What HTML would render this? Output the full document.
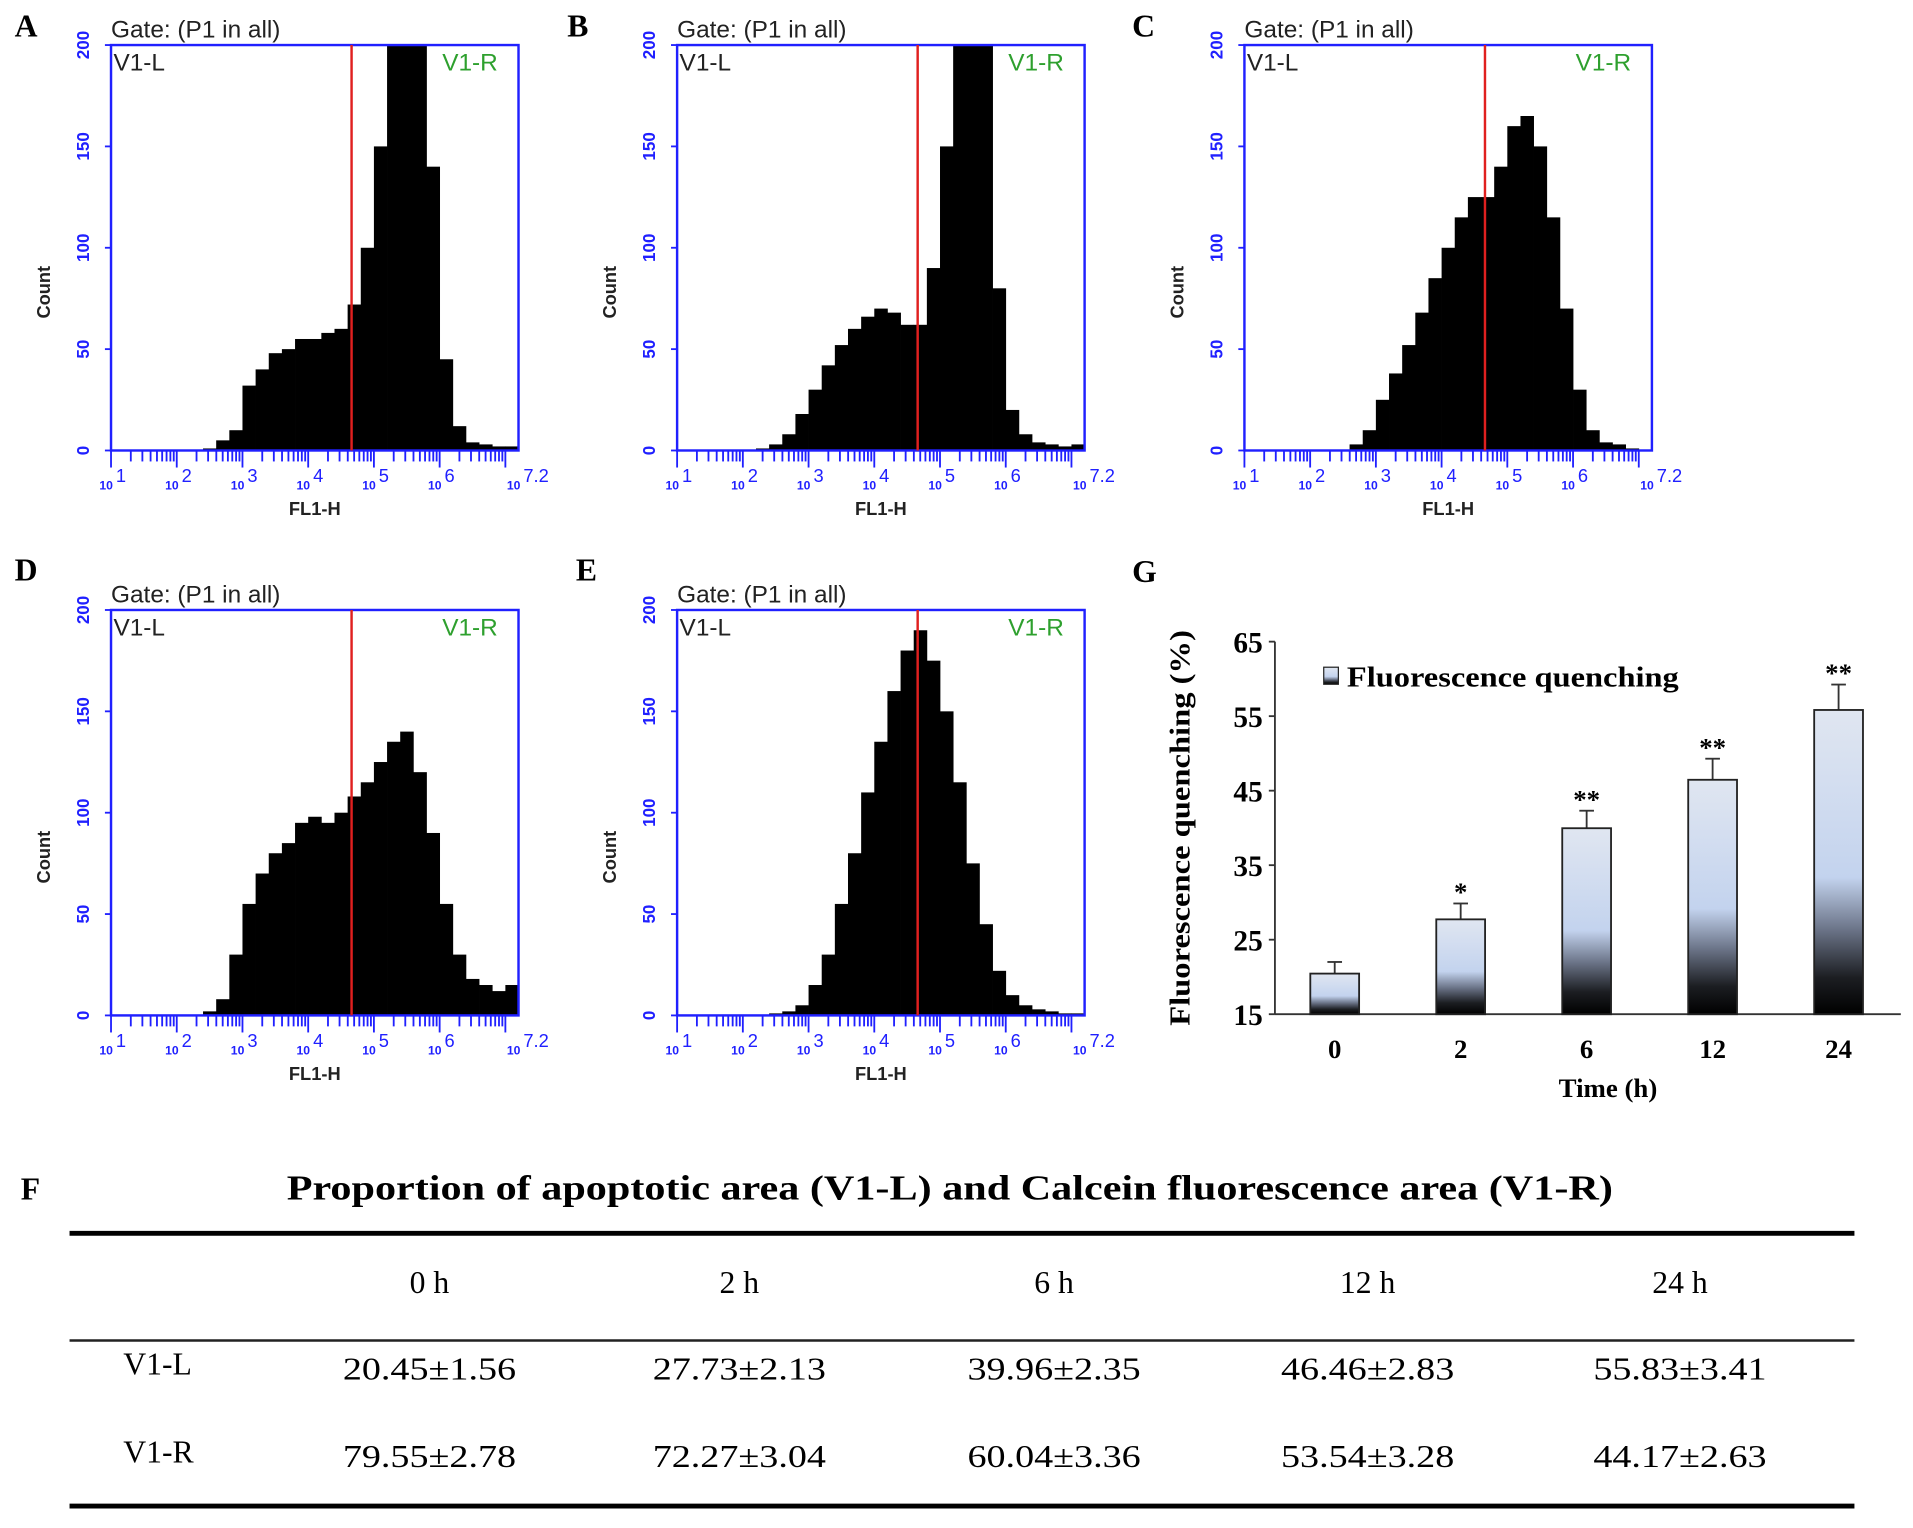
<!DOCTYPE html>
<html><head><meta charset="utf-8"><style>
html,body{margin:0;padding:0;background:#fff;}
svg{display:block;}
</style></head><body>
<svg id="fig" width="1913" height="1528" viewBox="0 0 1568 1255" preserveAspectRatio="none" xmlns="http://www.w3.org/2000/svg">
<defs>
<linearGradient id="barGrad" x1="0" y1="0" x2="0" y2="1">
<stop offset="0" stop-color="#e0e6f1"/>
<stop offset="0.55" stop-color="#c3d3ee"/>
<stop offset="0.72" stop-color="#6c7589"/>
<stop offset="0.88" stop-color="#1c1e22"/>
<stop offset="1" stop-color="#000"/>
</linearGradient>
</defs>
<g id="hists"></g>
<g id="chartG"></g>
<g id="tableF"></g>
</svg>
<script>
// ---------- Histogram data (counts per 0.2-decade bin from log 1.0 to 7.0) ----------
const histBins = [1.0,1.2,1.4,1.6,1.8,2.0,2.2,2.4,2.6,2.8,3.0,3.2,3.4,3.6,3.8,4.0,4.2,4.4,4.6,4.8,5.0,5.2,5.4,5.6,5.8,6.0,6.2,6.4,6.6,6.8,7.0];
const histA = [0,0,0,0,0,0,0,1,5,10,32,40,48,50,55,55,58,60,72,100,150,210,230,220,140,45,12,4,3,2,2];
const histB = [0,0,0,0,0,0,1,3,8,18,30,42,52,60,66,70,68,62,62,90,150,210,230,200,80,20,8,4,3,2,3];
const histC = [0,0,0,0,0,0,0,0,3,10,25,38,52,68,85,100,115,125,125,140,160,165,150,115,70,30,10,4,3,1,0];
const histD = [0,0,0,0,0,0,0,2,8,30,55,70,80,85,95,98,95,100,108,115,125,135,140,120,90,55,30,18,15,12,15];
const histE = [0,0,0,0,0,0,0,1,2,5,15,30,55,80,110,135,160,180,190,175,150,115,75,45,22,10,5,3,2,1,1];
const yTicksHist = [0,50,100,150,200];
const xDecades = [1,2,3,4,5,6];
const gateLog = 4.66;

// ---------- Bar chart G ----------
const timeLabels = ["0","2","6","12","24"];
const quenchVals = [20.45,27.73,39.96,46.46,55.83];
const quenchErr = [1.56,2.13,2.35,2.83,3.41];
const sigMarks = ["","*","**","**","**"];
const yTicksG = [15,25,35,45,55,65];

// ---------- Table F ----------
const tableHead = ["0 h","2 h","6 h","12 h","24 h"];
const rowV1L = ["20.45±1.56","27.73±2.13","39.96±2.35","46.46±2.83","55.83±3.41"];
const rowV1R = ["79.55±2.78","72.27±3.04","60.04±3.36","53.54±3.28","44.17±2.63"];

const NS="http://www.w3.org/2000/svg";
function mk(tag, attrs, parent, text){
  const e=document.createElementNS(NS,tag);
  for(const k in attrs) e.setAttribute(k,attrs[k]);
  if(text!==undefined) e.textContent=text;
  parent.appendChild(e); return e;
}
const hg=document.getElementById('hists');
const panels=[
 {id:'A',data:histA,x0:91,y0:37,lx:12,ly:30},
 {id:'B',data:histB,x0:555,y0:37,lx:465,ly:30},
 {id:'C',data:histC,x0:1020,y0:37,lx:928,ly:30},
 {id:'D',data:histD,x0:91,y0:501,lx:12,ly:477},
 {id:'E',data:histE,x0:555,y0:501,lx:472,ly:477}
];
const W=334,H=333;
panels.forEach(p=>{
  const g=mk('g',{},hg);
  
  
  const xs=v=>p.x0+(v-1)/6.2*W;
  const ys=v=>p.y0+H-Math.min(v,200)/200*H;
  const lab=mk('text',{x:p.lx,y:p.ly,'font-family':'Liberation Serif, serif','font-weight':'bold','font-size':26,fill:'#000'},g,p.id);
  
  
  p.data.forEach((v,i)=>{
    if(v<=0) return;
    const b=histBins[i];
    const r=mk('rect',{x:xs(b),y:ys(v),width:xs(b+0.2)-xs(b)+0.3,height:p.y0+H-ys(v),fill:'#000'},g);
    
    
  });
  const box=mk('rect',{x:p.x0,y:p.y0,width:W,height:H,fill:'none',stroke:'#2020ff','stroke-width':2},g);
  
  
  const gl=mk('line',{x1:xs(gateLog),x2:xs(gateLog),y1:p.y0,y2:p.y0+H,stroke:'#e0201f','stroke-width':2},g);
  
  
  yTicksHist.forEach(t=>{
    const y=ys(t);
    mk('line',{x1:p.x0-5,x2:p.x0,y1:y,y2:y,stroke:'#2020ff','stroke-width':1.5},g);
    const tx=mk('text',{x:0,y:0,transform:`translate(${p.x0-18},${y}) rotate(-90)`,'text-anchor':'middle','font-family':'Liberation Sans, sans-serif','font-size':14,'font-weight':'bold',fill:'#2020ff'},g,String(t));
    
    
  });
  for(let d=1; d<=7; d++){
    for(let m=1;m<=9;m++){
      const lv=d+Math.log10(m);
      if(lv>7.2) break;
      const major=(m===1);
      mk('line',{x1:xs(lv),x2:xs(lv),y1:p.y0+H,y2:p.y0+H+(major?14:9),stroke:'#2020ff','stroke-width':1.5},g);
    }
  }
  xDecades.concat([7.2]).forEach(d=>{
    const t=mk('text',{x:xs(d)-4,y:p.y0+H+32,'text-anchor':'middle','font-family':'Liberation Sans, sans-serif','font-size':10,'font-weight':'bold',fill:'#2020ff'},g,'10');
    
    
    mk('text',{x:xs(d)+4,y:p.y0+H+26,'font-family':'Liberation Sans, sans-serif','font-size':15,fill:'#2020ff'},g,String(d));
  });
  const xt=mk('text',{x:p.x0+167,y:p.y0+H+53,'text-anchor':'middle','font-family':'Liberation Sans, sans-serif','font-weight':'bold','font-size':15,fill:'#222'},g,'FL1-H');
  
  
  const yt=mk('text',{transform:`translate(${p.x0-50},${p.y0+203}) rotate(-90)`,'text-anchor':'middle','font-family':'Liberation Sans, sans-serif','font-weight':'bold','font-size':15,fill:'#222'},g,'Count');
  
  
  const gt=mk('text',{x:p.x0,y:p.y0-6,'font-family':'Liberation Sans, sans-serif','font-size':20,fill:'#222'},g,'Gate: (P1 in all)');
  
  
  const vl=mk('text',{x:p.x0+2,y:p.y0+21,'font-family':'Liberation Sans, sans-serif','font-size':20,fill:'#222'},g,'V1-L');
  
  
  const vr=mk('text',{x:p.x0+W-17,y:p.y0+21,'text-anchor':'end','font-family':'Liberation Sans, sans-serif','font-size':20,fill:'#2ea02e'},g,'V1-R');
  
  
});

// ---------- Chart G ----------
const cg=document.getElementById('chartG');
const gx0=1045, gx1=1558, gyTop=527, gyBot=833;
const yG=v=>gyBot-(v-15)/50*(gyBot-gyTop);
const xG=i=>1094+i*103.25;
const gl=mk('text',{x:928,y:478,'font-family':'Liberation Serif, serif','font-weight':'bold','font-size':26},cg,'G');


mk('line',{x1:gx0,x2:gx0,y1:gyTop,y2:gyBot,stroke:'#333','stroke-width':1.5},cg);
mk('line',{x1:gx0,x2:gx1,y1:gyBot,y2:gyBot,stroke:'#333','stroke-width':1.5},cg);
yTicksG.forEach(t=>{
  mk('line',{x1:gx0-5,x2:gx0,y1:yG(t),y2:yG(t),stroke:'#333','stroke-width':1.5},cg);
  const tx=mk('text',{x:gx0-10,y:yG(t)+9,'text-anchor':'end','font-family':'Liberation Serif, serif','font-weight':'bold','font-size':24},cg,String(t));
  
  
});
quenchVals.forEach((v,i)=>{
  const cx=xG(i), bw=40;
  const top=yG(v), et=yG(v+quenchErr[i]);
  mk('line',{x1:cx,x2:cx,y1:et,y2:top,stroke:'#333','stroke-width':1.5},cg);
  mk('line',{x1:cx-6,x2:cx+6,y1:et,y2:et,stroke:'#333','stroke-width':1.5},cg);
  const r=mk('rect',{x:cx-bw/2,y:top,width:bw,height:gyBot-top,fill:'url(#barGrad)',stroke:'#222','stroke-width':1.5},cg);
  
  
  if(sigMarks[i]){
    const s=mk('text',{x:cx,y:et-2,'text-anchor':'middle','font-family':'Liberation Serif, serif','font-weight':'bold','font-size':22},cg,sigMarks[i]);
    
    
  }
  const l=mk('text',{x:cx,y:869,'text-anchor':'middle','font-family':'Liberation Serif, serif','font-weight':'bold','font-size':22},cg,timeLabels[i]);
  
  
});
const xtG=mk('text',{x:1318,y:901,'text-anchor':'middle','font-family':'Liberation Serif, serif','font-weight':'bold','font-size':22},cg,'Time (h)');


const ytG=mk('text',{transform:'translate(975,680) rotate(-90)','text-anchor':'middle','font-family':'Liberation Serif, serif','font-weight':'bold','font-size':23,textLength:325,lengthAdjust:'spacingAndGlyphs'},cg,'Fluorescence quenching (%)');


const lg=mk('rect',{x:1085,y:548,width:12,height:14,fill:'url(#barGrad)',stroke:'#222'},cg);


const lt=mk('text',{x:1104,y:564,'font-family':'Liberation Serif, serif','font-weight':'bold','font-size':23,textLength:272,lengthAdjust:'spacingAndGlyphs'},cg,'Fluorescence quenching');



// ---------- Table F ----------
const tf=document.getElementById('tableF');
const fl=mk('text',{x:17,y:985,'font-family':'Liberation Serif, serif','font-weight':'bold','font-size':26},tf,'F');


const tt=mk('text',{x:235,y:985,'font-family':'Liberation Serif, serif','font-weight':'bold','font-size':29,textLength:1087,lengthAdjust:'spacingAndGlyphs'},tf,'Proportion of apoptotic area (V1-L) and Calcein fluorescence area (V1-R)');


mk('line',{x1:57,x2:1520,y1:1013,y2:1013,stroke:'#000','stroke-width':4},tf);
mk('line',{x1:57,x2:1520,y1:1101,y2:1101,stroke:'#222','stroke-width':2},tf);
mk('line',{x1:57,x2:1520,y1:1237,y2:1237,stroke:'#000','stroke-width':4},tf);
const colX=[352,606,864,1121,1377];
tableHead.forEach((h,i)=>{
  const t=mk('text',{x:colX[i],y:1062,'text-anchor':'middle','font-family':'Liberation Serif, serif','font-size':26},tf,h);
  
  
});
[[ 'V1-L',rowV1L,1133],['V1-R',rowV1R,1205]].forEach(([lab,row,y])=>{
  const t=mk('text',{x:101,y:y-4,'font-family':'Liberation Serif, serif','font-size':26},tf,lab);
  
  
  row.forEach((v,i)=>{
    const c=mk('text',{x:colX[i],y:y,'text-anchor':'middle','font-family':'Liberation Serif, serif','font-size':26,textLength:142,lengthAdjust:'spacingAndGlyphs'},tf,v);
    
    
  });
});
</script>
</body></html>
